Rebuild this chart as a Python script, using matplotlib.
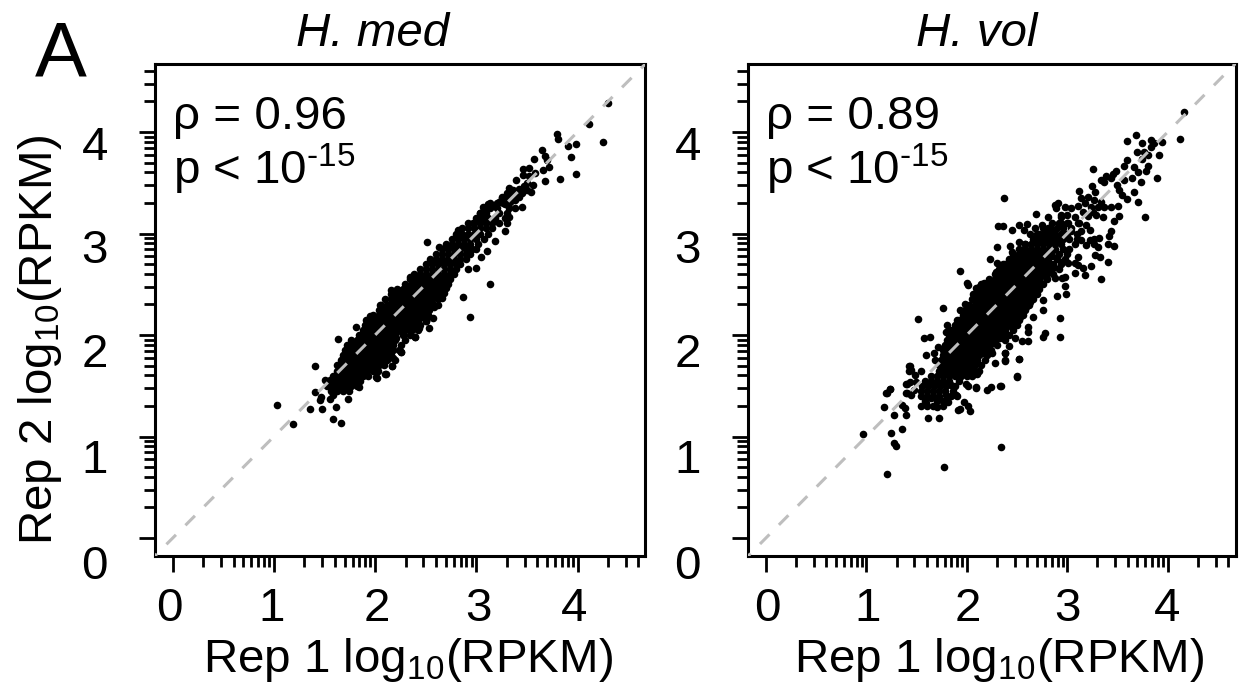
import matplotlib
matplotlib.use("Agg")
import matplotlib.pyplot as plt
import matplotlib.transforms as mtrans
import numpy as np

plt.rcParams['font.family'] = ['Liberation Sans', 'DejaVu Sans']
plt.rcParams['mathtext.fontset'] = 'custom'
plt.rcParams['mathtext.rm'] = 'Liberation Sans'
plt.rcParams['mathtext.it'] = 'Liberation Sans:italic'
plt.rcParams['mathtext.default'] = 'regular'

med_core = [
    (1.45, [1.56, 1.62, 1.68, 1.74]),
    (1.50, [1.52, 1.58, 1.64, 1.70, 1.76, 1.82]),
    (1.55, [1.56, 1.62, 1.68, 1.74, 1.80, 1.85]),
    (1.60, [1.58, 1.64, 1.70, 1.76, 1.82, 1.88, 1.93]),
    (1.65, [1.62, 1.68, 1.74, 1.80, 1.86, 1.92, 1.98, 2.03]),
    (1.70, [1.62, 1.68, 1.74, 1.80, 1.86, 1.92, 1.98, 2.04, 2.09]),
    (1.75, [1.66, 1.72, 1.78, 1.84, 1.90, 1.96, 2.02, 2.08, 2.12]),
    (1.80, [1.68, 1.74, 1.80, 1.86, 1.92, 1.98, 2.04, 2.10, 2.16]),
    (1.85, [1.70, 1.76, 1.82, 1.88, 1.94, 2.00, 2.06, 2.12, 2.18]),
    (1.90, [1.72, 1.78, 1.84, 1.90, 1.96, 2.02, 2.08, 2.14, 2.18]),
    (1.95, [1.76, 1.82, 1.88, 1.94, 2.00, 2.06, 2.12, 2.18, 2.20]),
    (2.00, [1.84, 1.90, 1.96, 2.02, 2.08, 2.14, 2.20, 2.28]),
    (2.05, [1.88, 1.94, 2.00, 2.06, 2.12, 2.18, 2.24, 2.30, 2.34]),
    (2.10, [1.92, 1.98, 2.04, 2.10, 2.16, 2.22, 2.28, 2.34, 2.38]),
    (2.15, [1.94, 2.00, 2.06, 2.12, 2.18, 2.24, 2.30, 2.36, 2.42]),
    (2.20, [1.98, 2.04, 2.10, 2.16, 2.22, 2.28, 2.34, 2.40, 2.46]),
    (2.25, [2.04, 2.10, 2.16, 2.22, 2.28, 2.34, 2.40, 2.46, 2.48]),
    (2.30, [2.06, 2.12, 2.18, 2.24, 2.30, 2.36, 2.42, 2.48, 2.52]),
    (2.35, [2.10, 2.16, 2.22, 2.28, 2.34, 2.40, 2.46, 2.52, 2.56]),
    (2.40, [2.16, 2.22, 2.28, 2.34, 2.40, 2.46, 2.52, 2.58, 2.60]),
    (2.45, [2.22, 2.28, 2.34, 2.40, 2.46, 2.52, 2.58, 2.64, 2.66]),
    (2.50, [2.30, 2.36, 2.42, 2.48, 2.54, 2.60, 2.66, 2.72]),
    (2.55, [2.34, 2.40, 2.46, 2.52, 2.58, 2.64, 2.70, 2.74]),
    (2.60, [2.38, 2.44, 2.50, 2.56, 2.62, 2.68, 2.74, 2.78]),
    (2.65, [2.44, 2.50, 2.56, 2.62, 2.68, 2.74, 2.80]),
    (2.70, [2.50, 2.56, 2.62, 2.68, 2.74, 2.80, 2.84]),
    (2.75, [2.54, 2.60, 2.66, 2.72, 2.78, 2.84, 2.90]),
    (2.80, [2.60, 2.66, 2.72, 2.78, 2.84, 2.90, 2.94]),
    (2.85, [2.66, 2.72, 2.78, 2.84, 2.90, 2.96, 3.00]),
    (2.90, [2.70, 2.76, 2.82, 2.88, 2.94, 3.02]),
    (2.95, [2.76, 2.82, 2.88, 2.94, 3.00, 3.08]),
    (3.00, [2.80, 2.86, 2.92, 2.98, 3.04, 3.12]),
    (3.05, [2.86, 2.92, 2.98, 3.04, 3.10, 3.16]),
    (3.10, [2.92, 2.98, 3.04, 3.10, 3.16, 3.22]),
    (3.15, [3.00, 3.06, 3.12, 3.18, 3.28]),
    (3.20, [3.04, 3.10, 3.22, 3.30]),
    (3.25, [3.08, 3.14, 3.20, 3.32]),
    (3.30, [3.14, 3.20, 3.26]),
    # rows in between, the middle of the band is solid black
    (1.675, [1.71, 1.77, 1.83, 1.89, 1.95, 2.01]),
    (1.725, [1.73, 1.79, 1.85, 1.91, 1.97, 2.03]),
    (1.775, [1.75, 1.81, 1.87, 1.93, 1.99, 2.05, 2.11]),
    (1.825, [1.77, 1.83, 1.89, 1.95, 2.01, 2.07, 2.13]),
    (1.875, [1.79, 1.85, 1.91, 1.97, 2.03, 2.09, 2.15]),
    (1.925, [1.81, 1.87, 1.93, 1.99, 2.05, 2.11, 2.17]),
    (1.975, [1.85, 1.91, 1.97, 2.03, 2.09, 2.15, 2.21]),
    (2.025, [1.91, 1.97, 2.03, 2.09, 2.15, 2.21, 2.27]),
    (2.075, [1.97, 2.03, 2.09, 2.15, 2.21, 2.27, 2.33]),
    (2.125, [2.01, 2.07, 2.13, 2.19, 2.25, 2.31, 2.37]),
    (2.175, [2.05, 2.11, 2.17, 2.23, 2.29, 2.35, 2.41]),
    (2.225, [2.09, 2.15, 2.21, 2.27, 2.33, 2.39, 2.45]),
    (2.275, [2.13, 2.19, 2.25, 2.31, 2.37, 2.43]),
    (2.325, [2.17, 2.23, 2.29, 2.35, 2.41, 2.47]),
    (2.375, [2.21, 2.27, 2.33, 2.39, 2.45, 2.51]),
    (2.425, [2.27, 2.33, 2.39, 2.45, 2.51, 2.57]),
    (2.475, [2.33, 2.39, 2.45, 2.51, 2.57, 2.63]),
]
# scattered points around the dense part: (rep 1, rep 2)
med_loose = [
    (4.30, 4.285), (4.11, 4.075), (4.25, 3.90), (3.80, 3.977), (3.81, 3.93),
    (3.91, 3.86), (3.99, 3.885), (3.94, 3.754), (3.99, 3.59), (3.83, 3.54),
    (3.68, 3.52), (3.65, 3.82), (3.68, 3.76), (3.695, 3.72), (3.72, 3.66),
    (3.57, 3.73), (3.52, 3.65), (3.46, 3.635), (3.465, 3.58), (3.66, 3.625),
    (3.39, 3.53), (3.56, 3.48), (3.54, 3.405), (3.45, 3.395), (3.32, 3.445),
    (3.45, 3.265), (3.38, 3.25), (3.30, 3.40), (3.22, 3.31), (3.12, 3.29),
    (3.07, 3.26), (3.04, 3.20), (3.50, 3.50), (3.36, 3.43), (3.25, 3.36),
    (3.17, 3.27), (3.28, 3.29), (3.40, 3.37), (3.52, 3.57), (3.58, 3.60),
    (3.25, 3.35), (3.30, 3.36), (3.35, 3.37), (3.38, 3.33), (3.33, 3.31),
    (3.42, 3.44), (3.47, 3.47), (3.50, 3.43), (3.42, 3.36),
    (2.51, 2.92), (3.135, 2.50), (2.87, 2.37), (2.935, 2.18), (1.41, 1.69),
    (1.63, 1.96), (1.81, 2.08), (1.91, 2.15), (1.95, 2.19), (2.05, 2.30),
    (2.16, 2.44), (2.19, 2.41), (2.23, 2.44), (2.34, 2.575), (2.38, 2.54),
    (2.63, 2.87), (2.82, 3.03), (2.97, 3.10), (2.53, 2.065), (2.43, 2.065),
    (2.50, 2.14), (2.575, 2.165), (2.39, 1.98), (2.26, 1.835), (2.17, 1.69),
    (2.10, 1.62), (2.01, 1.59), (2.18, 1.77), (2.10, 1.74), (3.0, 2.66),
    (2.92, 2.65), (3.11, 2.83), (3.05, 2.77), (3.185, 2.93), (3.28, 3.02),
    (3.30, 3.10), (3.32, 3.165), (1.03, 1.31), (1.19, 1.12), (1.36, 1.275),
    (1.48, 1.275), (1.61, 1.295), (1.58, 1.17), (1.66, 1.13), (1.73, 1.37),
    (1.555, 1.37), (1.585, 1.41), (1.455, 1.36), (1.47, 1.39), (1.41, 1.44),
    (1.505, 1.56), (1.55, 1.56), (1.64, 1.705), (1.84, 1.485), (2.015, 1.58),
    (2.11, 1.62), (2.17, 1.69), (2.26, 1.835), (2.20, 1.755), (2.39, 1.985),
    (2.50, 2.14),
    (2.44, 2.10), (2.50, 2.15), (2.47, 2.18), (2.52, 2.20), (2.53, 2.25),
    (2.58, 2.28), (2.56, 2.32), (2.62, 2.35), (2.62, 2.30), (2.66, 2.36),
    (2.62, 2.40), (2.68, 2.41), (2.70, 2.46), (2.34, 2.00), (2.30, 1.95),
    (2.26, 1.90), (2.24, 1.85), (2.36, 2.05), (2.42, 2.05), (1.92, 2.13),
    (1.90, 2.10), (1.86, 1.98), (1.82, 1.94),
]

vol_core = [
    (1.30, [1.60, 1.66, 1.76]),
    (1.35, [1.58, 1.70, 1.76, 1.80]),
    (1.40, [1.54, 1.60, 1.66, 1.72, 1.84]),
    (1.45, [1.54, 1.60, 1.66, 1.72, 1.78, 1.86]),
    (1.50, [1.55, 1.61, 1.67, 1.73, 1.79, 1.88]),
    (1.55, [1.58, 1.64, 1.70, 1.76, 1.82, 1.92]),
    (1.60, [1.64, 1.70, 1.76, 1.82, 1.88, 1.94, 2.00, 2.05]),
    (1.65, [1.72, 1.78, 1.84, 1.90, 1.96, 2.02, 2.08, 2.12]),
    (1.70, [1.72, 1.78, 1.84, 1.90, 1.96, 2.02, 2.08, 2.14]),
    (1.75, [1.74, 1.80, 1.86, 1.92, 1.98, 2.04, 2.10, 2.18]),
    (1.80, [1.76, 1.82, 1.88, 1.94, 2.00, 2.06, 2.12, 2.20]),
    (1.85, [1.76, 1.82, 1.88, 1.94, 2.00, 2.06, 2.12, 2.18, 2.24]),
    (1.90, [1.78, 1.84, 1.90, 1.96, 2.02, 2.08, 2.14, 2.20, 2.30]),
    (1.95, [1.80, 1.86, 1.92, 1.98, 2.04, 2.10, 2.16, 2.22, 2.28, 2.38]),
    (2.00, [1.82, 1.88, 1.94, 2.00, 2.06, 2.12, 2.18, 2.24, 2.30, 2.36, 2.42]),
    (2.05, [1.84, 1.90, 1.96, 2.02, 2.08, 2.14, 2.20, 2.26, 2.32, 2.38, 2.46]),
    (2.10, [1.88, 1.94, 2.00, 2.06, 2.12, 2.18, 2.24, 2.30, 2.36, 2.42, 2.50]),
    (2.15, [1.92, 1.98, 2.04, 2.10, 2.16, 2.22, 2.28, 2.34, 2.40, 2.46, 2.52]),
    (2.20, [1.96, 2.02, 2.08, 2.14, 2.20, 2.26, 2.32, 2.38, 2.44, 2.50, 2.56]),
    (2.25, [1.98, 2.04, 2.10, 2.16, 2.22, 2.28, 2.34, 2.40, 2.46, 2.52, 2.58]),
    (2.30, [2.02, 2.08, 2.14, 2.20, 2.26, 2.32, 2.38, 2.44, 2.50, 2.56, 2.62]),
    (2.35, [2.05, 2.11, 2.17, 2.23, 2.29, 2.35, 2.41, 2.47, 2.53, 2.59, 2.66]),
    (2.40, [2.06, 2.12, 2.18, 2.24, 2.30, 2.36, 2.42, 2.48, 2.54, 2.60, 2.66, 2.70]),
    (2.45, [2.10, 2.16, 2.22, 2.28, 2.34, 2.40, 2.46, 2.52, 2.58, 2.64, 2.72]),
    (2.50, [2.14, 2.20, 2.26, 2.32, 2.38, 2.44, 2.50, 2.56, 2.62, 2.68, 2.76]),
    (2.55, [2.22, 2.28, 2.34, 2.40, 2.46, 2.52, 2.58, 2.64, 2.70, 2.80]),
    (2.60, [2.28, 2.34, 2.40, 2.46, 2.52, 2.58, 2.64, 2.70, 2.76, 2.86]),
    (2.65, [2.32, 2.38, 2.44, 2.50, 2.56, 2.62, 2.68, 2.74, 2.80, 2.92]),
    (2.70, [2.36, 2.42, 2.48, 2.54, 2.60, 2.66, 2.72, 2.78, 2.86, 2.94]),
    (2.75, [2.42, 2.48, 2.54, 2.60, 2.66, 2.72, 2.78, 2.90, 2.98]),
    (2.80, [2.46, 2.52, 2.58, 2.64, 2.70, 2.76, 2.82, 2.92, 3.00]),
    (2.85, [2.52, 2.58, 2.64, 2.70, 2.76, 2.82, 2.88, 2.96, 3.02]),
    (2.90, [2.58, 2.64, 2.70, 2.76, 2.82, 2.88, 2.94, 3.08]),
    (2.95, [2.66, 2.72, 2.78, 2.84, 2.90, 2.96, 3.02, 3.10]),
    (3.00, [2.70, 2.76, 2.82, 2.88, 2.94, 3.00, 3.10]),
    (3.05, [2.76, 2.82, 2.90, 2.96, 3.04]),
    (3.10, [2.85, 2.92, 3.00, 3.12]),
    # rows in between, the middle of the band is solid black
    (1.625, [1.73, 1.79, 1.85, 1.91, 1.97]),
    (1.675, [1.75, 1.81, 1.87, 1.93, 1.99, 2.05]),
    (1.725, [1.77, 1.83, 1.89, 1.95, 2.01, 2.07]),
    (1.775, [1.79, 1.85, 1.91, 1.97, 2.03, 2.09]),
    (1.825, [1.79, 1.85, 1.91, 1.97, 2.03, 2.09, 2.15]),
    (1.875, [1.81, 1.87, 1.93, 1.99, 2.05, 2.11, 2.17]),
    (1.925, [1.83, 1.89, 1.95, 2.01, 2.07, 2.13, 2.19, 2.25]),
    (1.975, [1.85, 1.91, 1.97, 2.03, 2.09, 2.15, 2.21, 2.27, 2.33]),
    (2.025, [1.87, 1.93, 1.99, 2.05, 2.11, 2.17, 2.23, 2.29, 2.35]),
    (2.075, [1.91, 1.97, 2.03, 2.09, 2.15, 2.21, 2.27, 2.33, 2.39, 2.45]),
    (2.125, [1.95, 2.01, 2.07, 2.13, 2.19, 2.25, 2.31, 2.37, 2.43, 2.49]),
    (2.175, [1.99, 2.05, 2.11, 2.17, 2.23, 2.29, 2.35, 2.41, 2.47, 2.53]),
    (2.225, [2.01, 2.07, 2.13, 2.19, 2.25, 2.31, 2.37, 2.43, 2.49, 2.55]),
    (2.275, [2.05, 2.11, 2.17, 2.23, 2.29, 2.35, 2.41, 2.47, 2.53, 2.59]),
    (2.325, [2.09, 2.15, 2.21, 2.27, 2.33, 2.39, 2.45, 2.51, 2.57, 2.63]),
    (2.375, [2.09, 2.15, 2.21, 2.27, 2.33, 2.39, 2.45, 2.51, 2.57, 2.63]),
    (2.425, [2.13, 2.19, 2.25, 2.31, 2.37, 2.43, 2.49, 2.55, 2.61, 2.67]),
    (2.475, [2.17, 2.23, 2.29, 2.35, 2.41, 2.47, 2.53, 2.59, 2.65, 2.71]),
    (2.525, [2.25, 2.31, 2.37, 2.43, 2.49, 2.55, 2.61, 2.67, 2.73]),
    (2.575, [2.31, 2.37, 2.43, 2.49, 2.55, 2.61, 2.67, 2.73, 2.79]),
    (2.625, [2.35, 2.41, 2.47, 2.53, 2.59, 2.65, 2.71, 2.77, 2.83]),
    (2.675, [2.39, 2.45, 2.51, 2.57, 2.63, 2.69, 2.75, 2.81, 2.87]),
    (2.725, [2.45, 2.51, 2.57, 2.63, 2.69, 2.75, 2.81]),
    (2.775, [2.49, 2.55, 2.61, 2.67, 2.73, 2.79, 2.85]),
    (2.825, [2.55, 2.61, 2.67, 2.73, 2.79, 2.85]),
]
vol_loose = [
    (4.165, 4.197), (4.12, 3.934), (3.68, 3.97), (3.59, 3.908), (3.74, 3.888),
    (3.835, 3.92), (3.86, 3.895), (3.83, 3.855), (3.94, 3.90), (3.69, 3.806),
    (3.76, 3.806), (3.74, 3.737), (3.915, 3.77), (3.80, 3.77), (3.59, 3.724),
    (3.57, 3.67), (3.80, 3.67), (3.78, 3.62), (3.66, 3.66), (3.70, 3.61),
    (3.64, 3.55), (3.565, 3.527), (3.73, 3.51), (3.895, 3.55), (3.26, 3.64),
    (3.49, 3.62), (3.46, 3.59), (3.39, 3.57), (3.34, 3.53), (3.37, 3.51),
    (3.44, 3.55), (3.245, 3.47), (3.12, 3.42), (3.28, 3.405), (3.50, 3.48),
    (3.52, 3.43), (3.545, 3.38), (3.59, 3.34), (3.66, 3.41), (3.70, 3.31),
    (3.77, 3.16), (2.37, 3.353), (3.44, 3.265), (3.505, 3.27), (3.52, 3.175),
    (3.47, 3.126), (3.36, 3.165), (3.14, 3.35), (3.21, 3.355), (3.27, 3.33),
    (3.34, 3.31), (3.37, 3.265), (3.175, 3.30), (3.24, 3.265), (3.31, 3.265),
    (3.11, 3.27), (3.16, 3.215), (3.26, 3.215), (3.29, 3.18), (2.88, 3.28),
    (2.91, 3.30), (2.885, 3.25), (2.98, 3.26), (3.04, 3.25), (3.00, 3.18),
    (2.94, 3.165), (2.69, 3.19), (2.806, 3.16), (2.31, 3.07), (2.36, 3.07),
    (2.45, 3.03), (2.52, 3.08), (2.60, 3.09), (2.57, 3.03), (2.63, 2.995),
    (2.68, 3.05), (2.745, 3.08), (2.81, 3.05), (2.715, 3.0), (2.78, 3.02),
    (2.845, 3.035), (3.44, 3.02), (3.42, 2.975), (3.41, 2.90), (3.47, 2.88),
    (3.32, 2.96), (3.27, 2.95), (3.31, 2.87), (3.27, 2.90), (3.225, 3.03),
    (3.28, 2.79), (3.33, 2.77), (3.41, 2.72), (3.235, 2.68), (3.16, 2.66),
    (3.18, 2.59), (3.34, 2.55), (2.30, 2.87), (2.43, 2.875), (2.235, 2.745),
    (2.30, 2.71), (1.93, 2.63), (2.29, 2.62), (2.0, 2.51), (2.01, 2.49),
    (2.17, 2.51), (2.235, 2.515), (2.12, 2.475), (1.765, 2.27), (1.93, 2.25),
    (1.98, 2.31), (1.51, 2.16), (1.57, 1.97), (1.63, 1.98), (1.59, 1.80),
    (1.805, 2.10), (1.79, 2.03), (1.905, 2.15), (1.71, 1.88), (1.675, 1.82),
    (1.685, 1.75), (1.43, 1.69), (1.42, 1.65), (1.54, 1.65), (1.48, 1.61),
    (1.40, 1.52), (1.49, 1.54), (1.235, 1.47), (1.20, 1.425), (1.40, 1.425),
    (2.93, 2.17), (2.93, 1.98), (2.78, 2.02), (2.76, 1.98), (2.66, 2.18),
    (2.76, 2.25), (2.76, 2.345), (2.99, 2.40), (2.98, 2.48), (2.895, 2.38),
    (2.945, 2.56), (2.61, 2.08), (2.61, 2.03), (2.55, 1.945), (2.61, 1.945),
    (2.48, 1.97), (2.42, 1.89), (2.38, 1.82), (2.385, 1.74), (2.28, 1.72),
    (2.52, 1.76), (2.50, 1.59), (2.34, 1.50), (2.24, 1.49), (2.20, 1.46),
    (2.09, 1.48), (1.99, 1.52), (2.01, 1.50), (1.89, 1.41), (2.10, 1.62),
    (2.25, 1.82), (0.967, 1.02), (1.205, 0.634), (1.77, 0.696), (2.34, 0.897),
    (1.25, 1.03), (1.36, 1.07), (1.28, 0.933), (1.30, 0.91), (1.18, 1.295),
    (1.275, 1.21), (1.39, 1.21), (1.38, 1.28), (1.36, 1.31), (1.205, 1.425),
    (1.24, 1.47), (1.61, 1.18), (1.72, 1.18), (1.915, 1.26), (1.93, 1.27),
    (2.03, 1.255), (1.97, 1.345), (2.01, 1.30), (2.09, 1.485), (2.33, 1.50),
    (2.50, 1.593), (2.52, 1.76), (2.38, 1.75), (2.38, 1.82), (1.425, 1.69),
    (1.44, 1.655), (1.39, 1.52), (1.43, 1.54), (1.39, 1.425), (1.44, 1.41),
    (1.475, 1.46), (1.54, 1.30), (1.59, 1.33), (1.64, 1.38), (1.705, 1.29),
    (1.81, 1.34), (1.79, 1.41), (1.905, 1.40), (1.84, 1.51),
    (3.14, 2.94), (3.19, 2.89), (3.11, 2.77), (3.08, 2.71), (3.01, 2.71),
    (2.94, 2.72), (3.11, 2.69), (3.08, 2.61), (2.98, 2.575), (2.88, 2.56),
    (3.14, 3.02), (3.225, 2.94), (3.04, 3.02), (2.94, 3.10), (2.98, 3.0),
    (3.11, 3.10), (3.19, 3.08), (3.08, 3.165), (2.94, 3.18), (3.01, 3.10),
    (3.21, 3.17), (2.52, 2.92), (2.58, 2.90), (2.45, 2.82), (2.55, 2.84),
    (2.38, 2.70), (2.09, 2.46), (2.07, 2.38), (1.97, 2.21),
]

panel_titles = ['H. med', 'H. vol']
rho_labels = ['\u03c1 = 0.96', '\u03c1 = 0.89']
major_ticks = [0, 1, 2, 3, 4]
minor_ticks = [np.log10(k) + d for d in range(5) for k in range(2, 10)
               if np.log10(k) + d < 4.65]


def split_points(core, loose):
    rep1 = [x for y, xs in core for x in xs] + [p[0] for p in loose]
    rep2 = [y for y, xs in core for x in xs] + [p[1] for p in loose]
    return rep1, rep2


def nudge(label, dx, dy):
    # pixels, y pointing up; the labels in the original sit off their ticks
    label.set_transform(label.get_transform() +
                        mtrans.ScaledTranslation(dx / 100, dy / 100, fig.dpi_scale_trans))


W, H = 1241, 683
FS = 34.2
fig = plt.figure(figsize=(W / 100, H / 100), dpi=100)

boxes = [(154.5, 645.0, -0.18, 4.667), (747.5, 1236.0, -0.183, 4.68)]
clouds = [split_points(med_core, med_loose), split_points(vol_core, vol_loose)]
title_x = [373, 977]
xlabel_x = [407.5, 999]
ytick_shift = [-23.5, -19.3, -14.5, -12, -10.7]
xtick_shift = [[-3, -2, 2, 2, -3], [1, 1.5, 1, 0.5, -0.5]]

for i, box in enumerate(boxes):
    ax = fig.add_axes([box[0] / W, 1 - 556 / H, (box[1] - box[0]) / W, 492 / H])
    ax.set_xlim(box[2], box[3])
    ax.set_ylim(-0.177, 4.67)

    ax.scatter(clouds[i][0], clouds[i][1], s=30, c='black', linewidths=0, zorder=2)
    ax.plot([-1, 6], [-1, 6], color='#bebebe', lw=2.2, ls=(0, (4.4, 4.4)),
            dash_capstyle='butt', zorder=3)

    for s in ax.spines.values():
        s.set_linewidth(2.2)

    for axis in (ax.xaxis, ax.yaxis):
        axis.set_ticks(major_ticks)
        axis.set_ticks(minor_ticks, minor=True)
    ax.tick_params(which='major', length=11.5, width=2.0, labelsize=FS)
    ax.tick_params(which='minor', length=8, width=2.0)
    ax.tick_params(axis='x', which='major', pad=11)
    ax.tick_params(axis='y', which='major', pad=22)

    for lab, dy in zip(ax.get_yticklabels(), ytick_shift):
        nudge(lab, 0, dy)
    for lab, dx in zip(ax.get_xticklabels(), xtick_shift[i]):
        nudge(lab, dx, 0)

    fig.text(title_x[i] / W, 1 - 45.5 / H, panel_titles[i], fontsize=FS, style='italic',
             ha='center', va='baseline')
    fig.text(xlabel_x[i] / W, 1 - 672 / H, 'Rep 1 log$_{10}$(RPKM)', fontsize=FS,
             ha='center', va='baseline')

    ax.text(0.0, 4.03, rho_labels[i], fontsize=FS, va='baseline', ha='left')
    ax.text(0.0, 3.48, 'p < 10$^{\\text{-}15}$', fontsize=FS, va='baseline', ha='left')

fig.text(52 / W, 1 - 340.5 / H, 'Rep 2 log$_{10}$(RPKM)', fontsize=FS, rotation=90,
         rotation_mode='anchor', ha='center', va='baseline')
fig.text(35 / W, 1 - 77 / H, 'A', fontsize=56, va='baseline', ha='left')

fig.savefig('out.png', dpi=100)
